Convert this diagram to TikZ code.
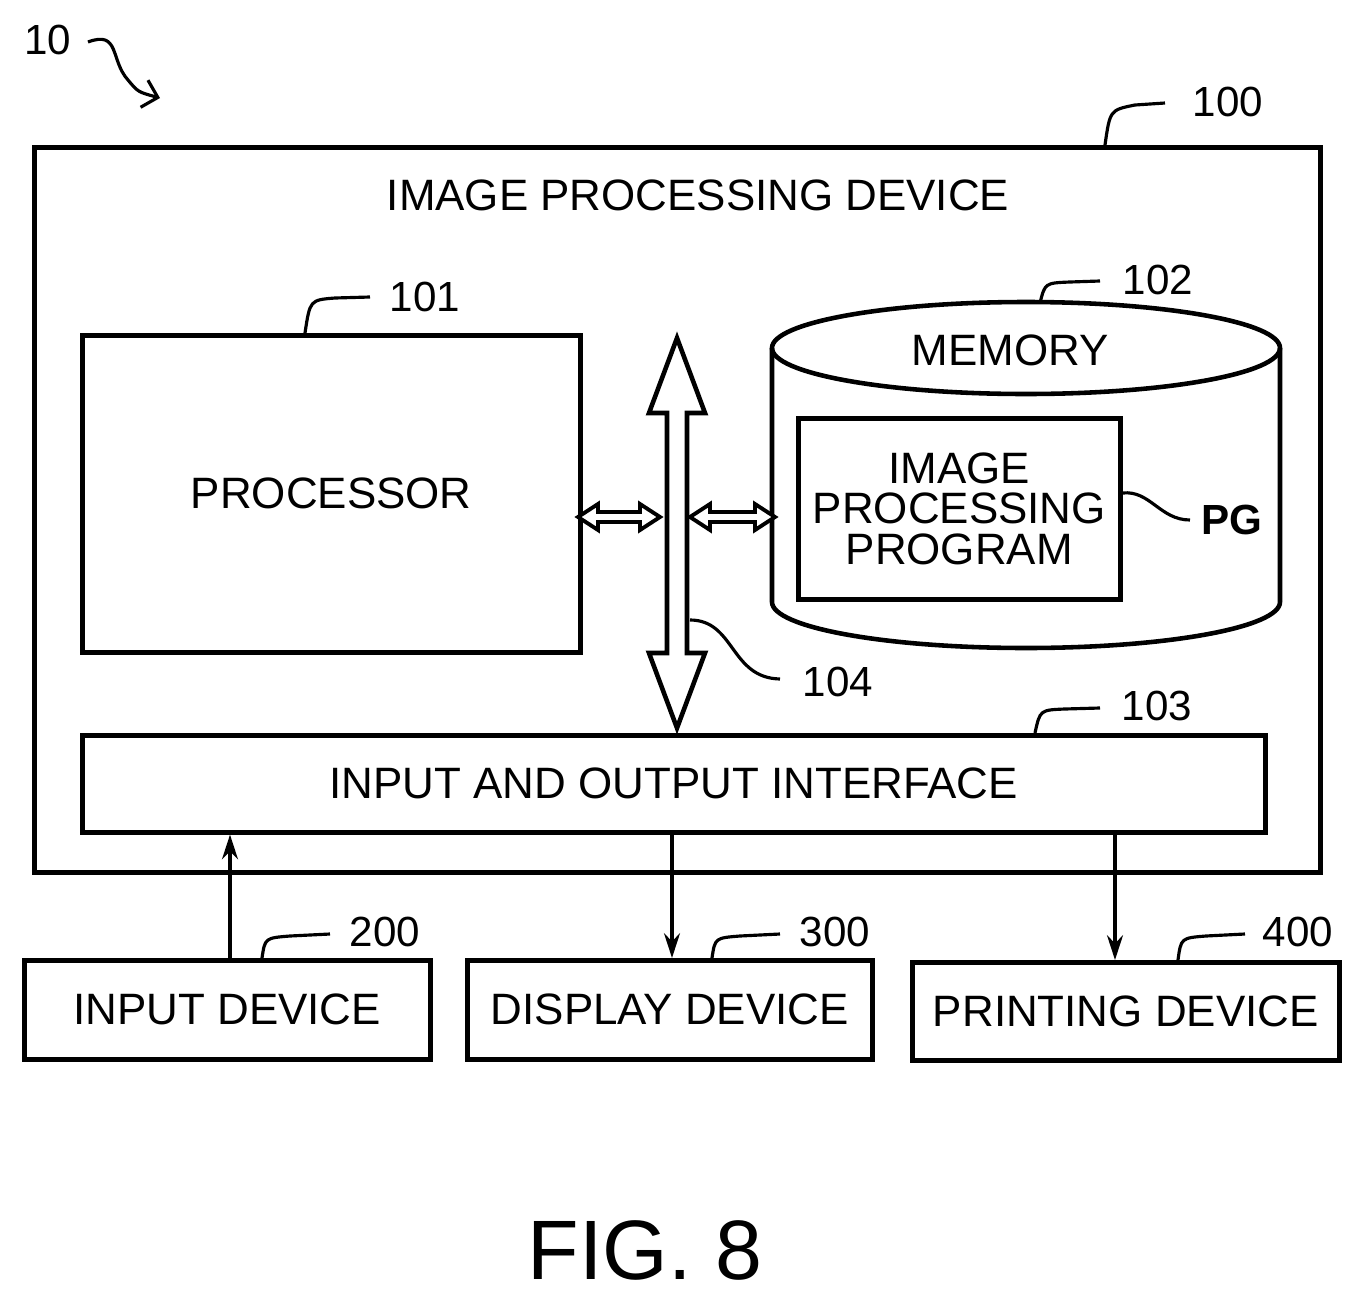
\documentclass[tikz,border=0pt]{standalone}
\usepackage{fontspec}
\setmainfont{Liberation Sans}
\usetikzlibrary{arrows.meta,positioning}
\begin{document}
\begin{tikzpicture}[
		x = 0.02cm, y = -0.02cm,
		> = {Stealth[length=14pt,width=9pt]},
		line width = 2.2pt,
		lbl/.style = {font=\fontsize{25}{27}\selectfont},
		ref/.style = {font=\fontsize{24}{26}\selectfont},
		box/.style = {draw, line width = 2.6pt},
		leader/.style = {line width = 1.8pt}
	]
	\useasboundingbox (0,0) rectangle (1360,1302);
	
	% outer device
	\node[box, minimum width=1286*0.02cm, minimum height=725*0.02cm, anchor=north west] (dev) at (32,145) {};
	\node[lbl] (devt) at (698,195) {IMAGE PROCESSING DEVICE};
	
	% processor
	\node[box, minimum width=498*0.02cm, minimum height=317*0.02cm, anchor=north west] (cpu) at (80,333) {};
	\node[lbl] at (cpu.center) {PROCESSOR};
	
	% memory cylinder
	\coordinate (memtop) at (1026,348);
	\draw[line width=2.6pt] (772,348) -- (772,602) arc[start angle=180, end angle=360, x radius=254, y radius=-46] -- (1280,348);
	\draw[line width=2.6pt] (memtop) ellipse[x radius=254, y radius=-46];
	\node[lbl] (memt) at (1010,350) {MEMORY};
	\node[box, minimum width=322*0.02cm, minimum height=181*0.02cm, anchor=north west] (prog) at (796,416) {};
	\node[lbl, align=center, font=\fontsize{25}{23}\selectfont] at (prog.center) {IMAGE\\PROCESSING\\PROGRAM};
	
	% interface
	\node[box, minimum width=1183*0.02cm, minimum height=97*0.02cm, anchor=north west] (io) at (80,733) {};
	\node[lbl] at (io.center) {INPUT AND OUTPUT INTERFACE};
	
	% peripherals
	\node[box, minimum width=406*0.02cm, minimum height=99*0.02cm, anchor=north west] (in) at (22,958) {};
	\node[lbl] at (in.center) {INPUT DEVICE};
	\node[box, minimum width=405*0.02cm, minimum height=99*0.02cm, anchor=north west] (disp) at (465,958) {};
	\node[lbl] at (disp.center) {DISPLAY DEVICE};
	\node[box, minimum width=427*0.02cm, minimum height=98*0.02cm, anchor=north west] (prn) at (910,960) {};
	\node[lbl] at (prn.center) {PRINTING DEVICE};
	
	% bus
	\draw[line width=2.6pt, fill=white] (677,338) -- (705,413) -- (687,413) -- (687,653) -- (705,653) -- (677,728)
		-- (649,653) -- (667,653) -- (667,413) -- (649,413) -- cycle;
	\draw[line width=2.2pt, fill=white] (578,517) -- (598,504) -- (598,512) -- (640,512) -- (640,504) -- (660,517)
		-- (640,530) -- (640,522) -- (598,522) -- (598,530) -- cycle;
	\draw[line width=2.2pt, fill=white] (690,517) -- (710,504) -- (710,512) -- (755,512) -- (755,504) -- (775,517)
		-- (755,530) -- (755,522) -- (710,522) -- (710,530) -- cycle;
	
	% signal arrows
	\draw[->] (in.north -| 230,0) -- (io.south -| 230,0);
	\draw[->] (io.south -| 672,0) -- (disp.north -| 672,0);
	\draw[->] (io.south -| 1115,0) -- (prn.north -| 1115,0);
	
	% reference numerals
	\node[ref] (r10) at (48,40) {10};
	\draw[leader, -{Straight Barb[length=8pt]}] (88,42) .. controls (120,30) and (110,60) .. (128,80) .. controls (138,92) .. (160,98);
	\node[ref] (r100) at (1228,102) {100};
	\draw[leader] (1105,145) .. controls (1110,110) .. (1135,105) -- (1165,103);
	\node[ref] (r101) at (425,297) {101};
	\draw[leader] (305,333) .. controls (310,300) .. (335,298) -- (370,297);
	\node[ref] (r102) at (1158,280) {102};
	\draw[leader] (1040,303) .. controls (1045,283) .. (1070,282) -- (1100,281);
	\node[ref] (r103) at (1157,706) {103};
	\draw[leader] (1035,733) .. controls (1040,710) .. (1065,709) -- (1100,708);
	\node[ref] (r104) at (838,682) {104};
	\draw[leader] (690,620) .. controls (735,620) and (730,678) .. (780,679);
	\node[ref, font=\fontsize{24}{26}\selectfont\bfseries] (rpg) at (1232,520) {PG};
	\draw[leader] (prog.east |- 0,493) .. controls (1150,490) and (1160,520) .. (1190,520);
	\node[ref] (r200) at (385,932) {200};
	\draw[leader] (262,958) .. controls (265,938) .. (290,936) -- (330,934);
	\node[ref] (r300) at (835,932) {300};
	\draw[leader] (712,958) .. controls (715,938) .. (740,936) -- (780,934);
	\node[ref] (r400) at (1298,932) {400};
	\draw[leader] (1178,960) .. controls (1181,938) .. (1206,936) -- (1245,934);
	
	% caption
	\node[font=\fontsize{48}{50}\selectfont] (cap) at (645,1250) {FIG. 8};
\end{tikzpicture}
\end{document}
